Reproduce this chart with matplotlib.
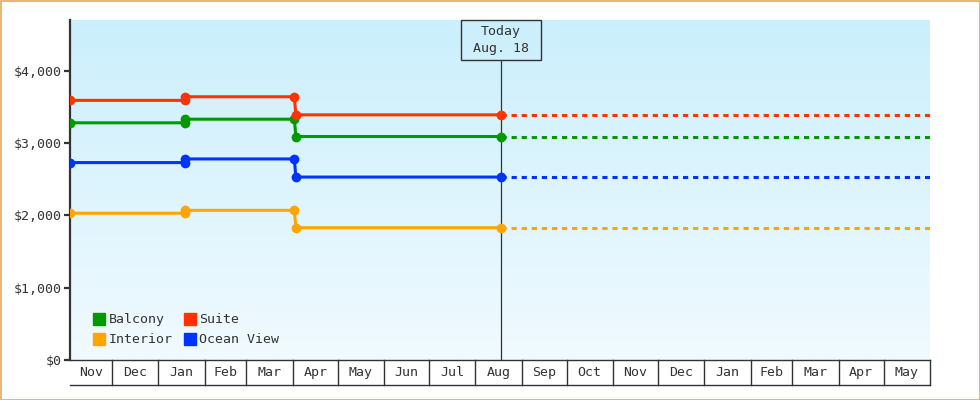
import matplotlib
matplotlib.use('Agg')
import matplotlib.pyplot as plt
import matplotlib.dates as mdates
from matplotlib.patches import Rectangle
from matplotlib.lines import Line2D
import numpy as np
import pandas as pd

# price history (change dates carry two points: old value then new value)
change_dates = ['2012-11-03', '2013-01-19', '2013-01-19', '2013-04-02', '2013-04-03', '2013-08-18']
balcony = [3279, 3279, 3329, 3329, 3089, 3089]
suite = [3589, 3589, 3639, 3639, 3389, 3389]
interior = [2029, 2029, 2069, 2069, 1829, 1829]
ocean_view = [2729, 2729, 2779, 2779, 2529, 2529]

series_names = ['Balcony', 'Interior', 'Suite', 'Ocean View']
series_colors = ['#009900', '#ffa500', '#ff3300', '#0033ff']

month_labels = ['Nov', 'Dec', 'Jan', 'Feb', 'Mar', 'Apr', 'May', 'Jun', 'Jul', 'Aug',
                'Sep', 'Oct', 'Nov', 'Dec', 'Jan', 'Feb', 'Mar', 'Apr', 'May']
y_ticks = [0, 1000, 2000, 3000, 4000]
y_tick_labels = ['$0', '$1,000', '$2,000', '$3,000', '$4,000']

today = '2013-08-18'
x_start = '2012-11-03'
x_end = '2014-06-01'

plt.rcParams['font.family'] = ['DejaVu Sans Mono']
txt = '#333333'
fs = 9.5

fig = plt.figure(figsize=(9.8, 4), dpi=100)
ax = fig.add_axes([70 / 980, 40 / 400, 860 / 980, 340 / 400])

x0 = mdates.date2num(pd.Timestamp(x_start))
x1 = mdates.date2num(pd.Timestamp(x_end))
xt = mdates.date2num(pd.Timestamp(today))
ax.set_xlim(x0, x1)
ax.set_ylim(0, 4700)

# gradient background
grad = np.linspace(0, 1, 256).reshape(-1, 1)
top_c = np.array([0xcb, 0xef, 0xfc]) / 255
bot_c = np.array([0xf1, 0xfa, 0xff]) / 255
img = top_c * (1 - grad[..., None]) + bot_c * grad[..., None]
img = img.reshape(256, 1, 3)
ax.imshow(img, extent=[0, 1, 0, 1], transform=ax.transAxes, aspect='auto', zorder=0)

dates = [mdates.date2num(pd.Timestamp(d)) for d in change_dates]
data = {'Balcony': balcony, 'Interior': interior, 'Suite': suite, 'Ocean View': ocean_view}
for name, col in zip(series_names, series_colors):
    vals = data[name]
    ax.plot(dates, vals, color=col, lw=2.2, marker='o', ms=6, zorder=3)
    ax.plot([dates[-1], x1], [vals[-1], vals[-1]], color=col, lw=2.2,
            dashes=(1.7, 1.6), zorder=3)

# today marker
ax.plot([xt, xt], [0, 1 - 40 / 340], color='#333333', lw=0.9, zorder=2,
        transform=ax.get_xaxis_transform())
tx = (xt - x0) / (x1 - x0)
ax.add_patch(Rectangle((tx - 40 / 860, 1 - 40 / 340), 80 / 860, 40 / 340,
                       transform=ax.transAxes, facecolor='none', edgecolor='#333333',
                       lw=1, zorder=4, clip_on=False))
ax.text(tx, 1 - 20 / 340, 'Today\nAug. 18', transform=ax.transAxes, ha='center',
        va='center', fontsize=fs, color=txt, linespacing=1.35, zorder=5)

# axes styling
for s in ['top', 'right']:
    ax.spines[s].set_visible(False)
ax.spines['left'].set_linewidth(1.6)
ax.spines['left'].set_color('#333333')
ax.spines['bottom'].set_linewidth(1.0)
ax.spines['bottom'].set_color('#333333')
ax.set_yticks(y_ticks)
ax.set_yticklabels(y_tick_labels)
ax.tick_params(axis='y', direction='out', length=4, width=1.6, color='#333333',
               labelsize=fs, labelcolor=txt, pad=2)
ax.set_xticks([])

# month band below the plot
band = 25 / 340
month_starts = pd.date_range('2012-12-01', '2014-05-01', freq='MS')
bounds = [x0] + [mdates.date2num(d) for d in month_starts] + [x1]
xtr = ax.get_xaxis_transform()
for b in bounds[1:]:
    ax.plot([b, b], [0, -band], color='#333333', lw=1, transform=xtr, clip_on=False)
ax.plot([x0, x1], [-band, -band], color='#333333', lw=1, transform=xtr, clip_on=False)
for lab, a, b in zip(month_labels, bounds[:-1], bounds[1:]):
    ax.text((a + b) / 2, -band / 2, lab, transform=xtr, ha='center', va='center',
            fontsize=fs, color=txt)

# legend
handles = [Line2D([], [], ls='none', marker='s', ms=8, color=c) for c in series_colors]
ax.legend(handles, series_names, ncol=2, frameon=False, loc='lower left',
          bbox_to_anchor=(0.014, 0.005), handlelength=0.8, handletextpad=0.3,
          columnspacing=0.9, labelspacing=0.55, fontsize=fs, labelcolor=txt)

# figure border
fig.patches.append(Rectangle((0.5 / 980, 0.5 / 400), 979 / 980, 399 / 400,
                             transform=fig.transFigure, facecolor='none',
                             edgecolor='#e8a860', lw=1.2))

fig.savefig('out.png', dpi=100)
